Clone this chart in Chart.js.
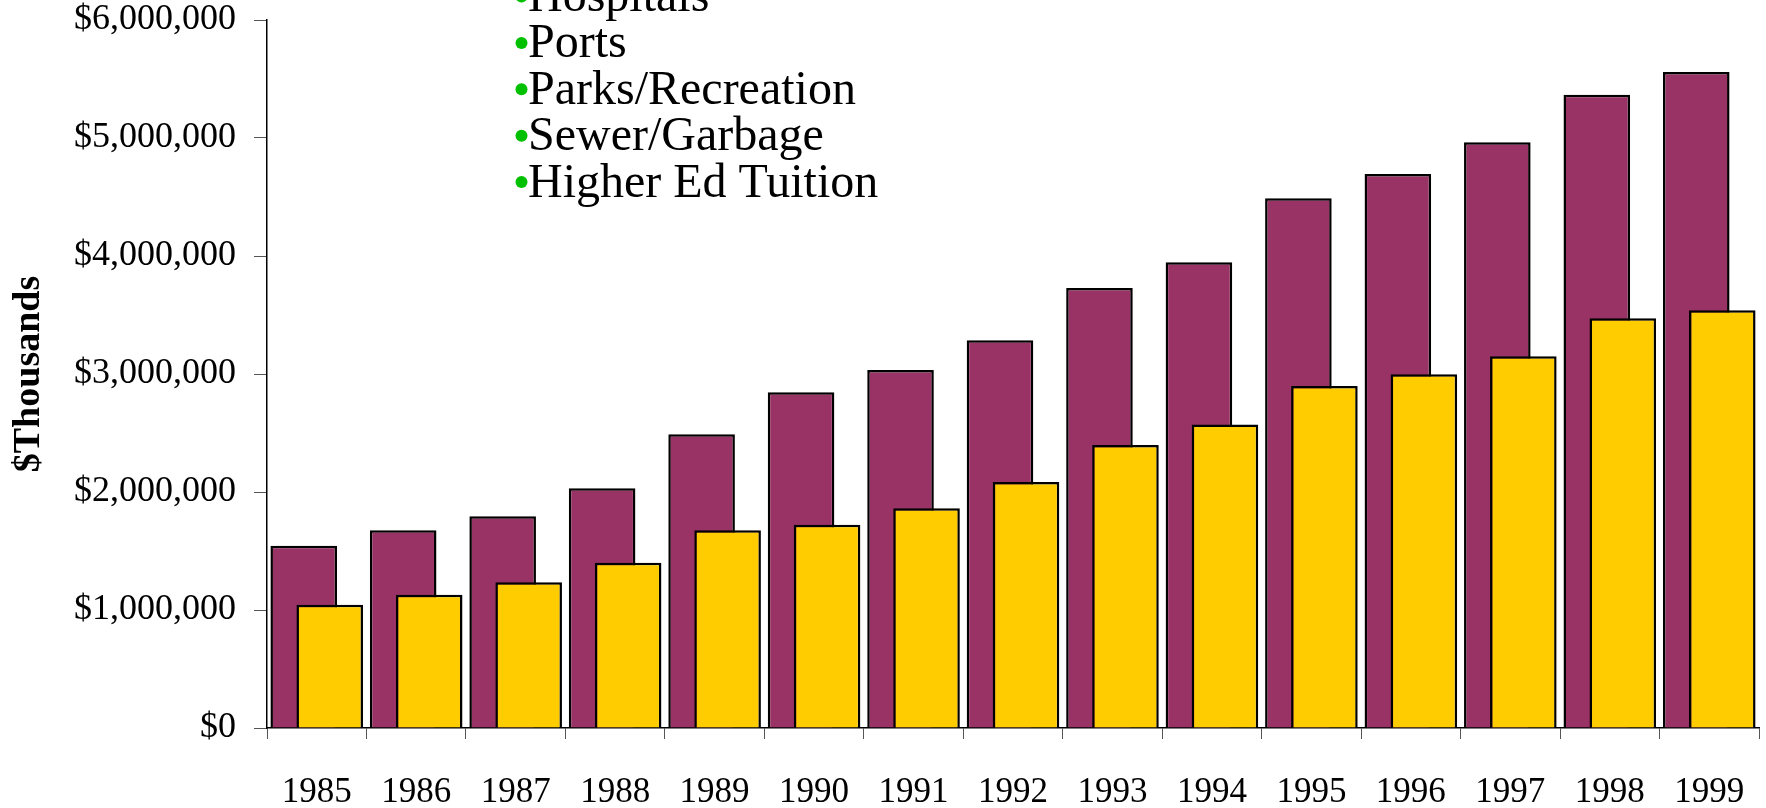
<!DOCTYPE html>
<html>
<head>
<meta charset="utf-8">
<script src="https://cdn.jsdelivr.net/npm/chart.js@4/dist/chart.umd.min.js"></script>
<style>
  body { margin: 0; background: #fff; }
</style>
</head>
<body>
<canvas id="grafico" width="1766" height="808"></canvas>
<script>
const anos = ['1985', '1986', '1987', '1988', '1989', '1990', '1991', '1992', '1993', '1994', '1995', '1996', '1997', '1998', '1999'];

// maroon bars (back)
const valoresTotal = [1545000, 1675000, 1794000, 2031000, 2490000, 2845000, 3034000, 3285000, 3729000, 3946000, 4489000, 4695000, 4963000, 5367000, 5559000];
// yellow bars (front)
const valoresTaxas = [1045000, 1130000, 1235000, 1400000, 1675000, 1723000, 1862000, 2084000, 2399000, 2571000, 2898000, 2997000, 3150000, 3472000, 3540000];

const ticksY = [0, 1000000, 2000000, 3000000, 4000000, 5000000, 6000000];

const itensLista = ['Hospitals', 'Ports', 'Parks/Recreation', 'Sewer/Garbage', 'Higher Ed Tuition'];

const fonte = '"Liberation Serif", "Times New Roman", serif';

// bullet list drawn on top of the chart
const listaTexto = {
    id: 'listaTexto',
    afterDraw(chart) {
        const c = chart.ctx;
        c.save();
        c.font = '48px ' + fonte;
        c.textBaseline = 'alphabetic';
        c.textAlign = 'left';
        itensLista.forEach((t, i) => {
            const y = 11 + i * 46.4;
            c.fillStyle = '#00c000';
            c.beginPath();
            c.arc(521.5, y - 14.5, 6, 0, Math.PI * 2);
            c.fill();
            c.fillStyle = '#000';
            c.fillText(t, 528, y);
        });
        c.restore();
    }
};

// yellow bars must sit in front of the maroon ones
const ordemBarras = {
    id: 'ordemBarras',
    beforeDatasetDraw(chart, args) {
        if (args.index === 1) return false;
    },
    afterDatasetsDraw(chart) {
        chart.getDatasetMeta(1).controller.draw();
    }
};

const ctx = document.getElementById('grafico').getContext('2d');

const dadosGrafico = {
    labels: anos,
    datasets: [{
        data: valoresTotal,
        backgroundColor: '#993366',
        borderColor: '#000',
        borderWidth: 2.5,
        categoryPercentage: 0.523,
        barPercentage: 2.56
    }, {
        data: valoresTaxas,
        backgroundColor: '#ffcc00',
        borderColor: '#000',
        borderWidth: 2.5,
        categoryPercentage: 0.523,
        barPercentage: 2.56
    }]
};

const config = {
    type: 'bar',
    data: dadosGrafico,
    plugins: [ordemBarras, listaTexto],
    options: {
        responsive: false,
        maintainAspectRatio: false,
        animation: false,
        layout: { padding: { left: 0, top: 20, right: 7, bottom: 0 } },
        plugins: {
            legend: { display: false },
            tooltip: { enabled: false }
        },
        scales: {
            x: {
                grid: { offset: true, drawOnChartArea: false, tickLength: 11, color: '#555' },
                border: { color: '#000', width: 1.5 },
                ticks: { color: '#000', font: { family: fonte, size: 35 }, padding: 33, maxRotation: 0, autoSkip: false },
                afterFit: (s) => {
                    s.height = 80;
                    s.paddingLeft = 0;
                    s.paddingRight = 0;
                }
            },
            y: {
                min: 0,
                max: 6000000,
                afterBuildTicks: (s) => { s.ticks = ticksY.map(v => ({ value: v })); },
                grid: { drawOnChartArea: false, tickLength: 13, color: '#555' },
                border: { color: '#000', width: 1.5 },
                ticks: {
                    color: '#000',
                    font: { family: fonte, size: 36 },
                    padding: 18,
                    callback: (v) => '$' + Number(v).toLocaleString('en-US')
                },
                title: {
                    display: true,
                    text: '$Thousands',
                    color: '#000',
                    font: { family: fonte, size: 38, weight: 'bold' },
                    padding: { top: 6, bottom: 0 }
                },
                afterFit: (s) => {
                    s.width = 267;
                    s.paddingTop = 0;
                    s.paddingBottom = 0;
                }
            }
        }
    }
};

const meuGrafico = new Chart(ctx, config);
</script>
</body>
</html>
